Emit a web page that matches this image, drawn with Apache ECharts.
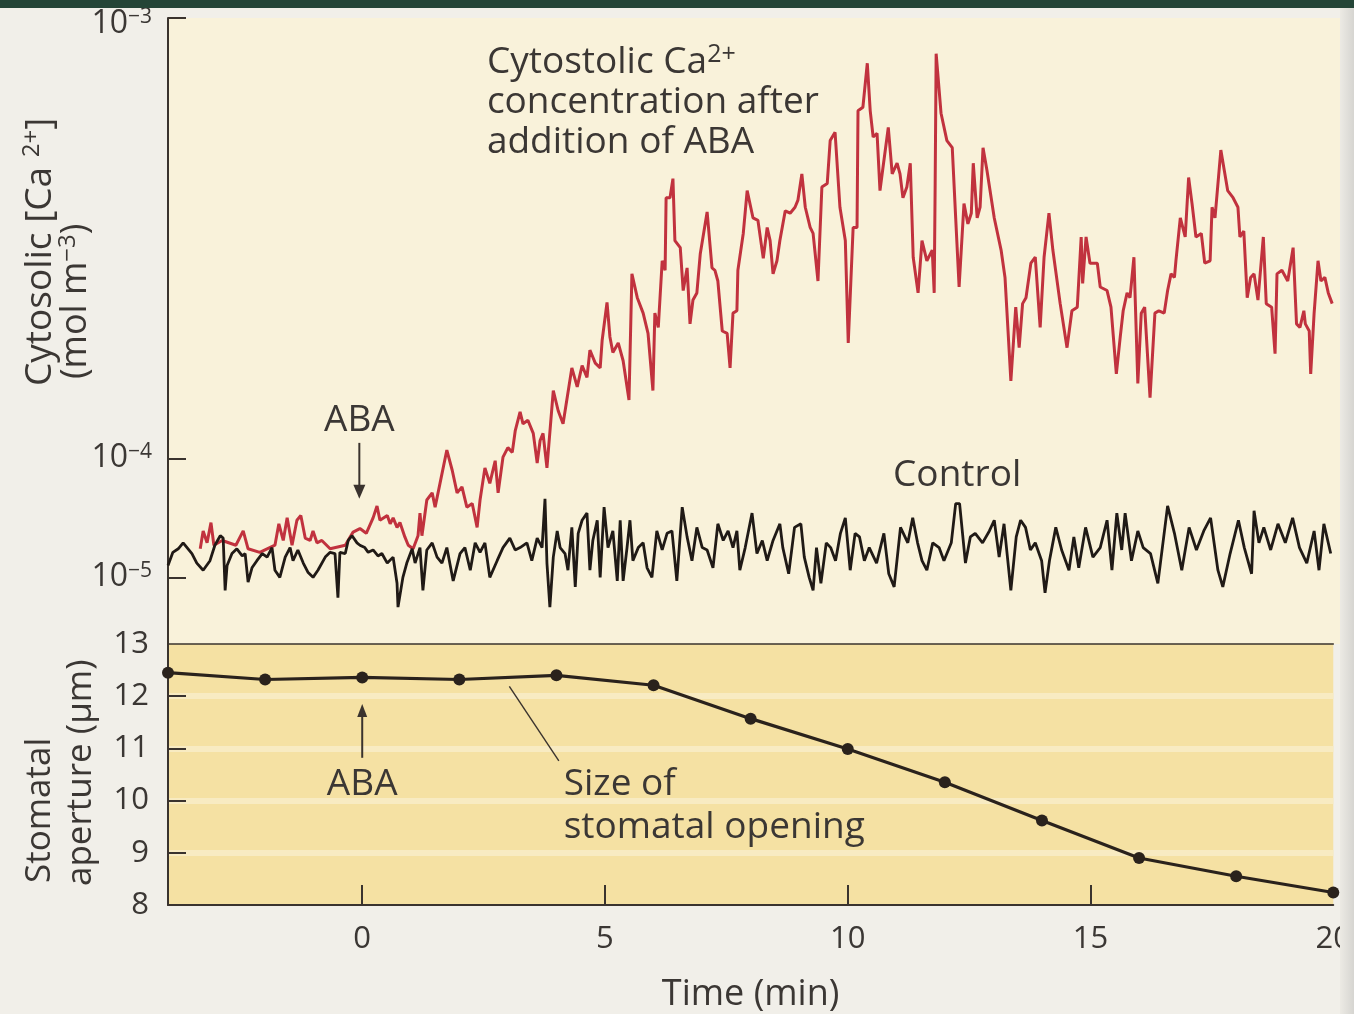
<!DOCTYPE html>
<html><head><meta charset="utf-8">
<script src="https://cdn.jsdelivr.net/npm/echarts@6/dist/echarts.min.js"></script>
<style>html,body{margin:0;padding:0;background:#f1efe9;}#c{width:1354px;height:1014px;}</style>
</head><body><div id="c"></div>
<script>
// ---- data ----
// time in minutes; Ca level on the figure's (non-uniform) printed scale: 0 = 10^-5, 100 = 10^-4, 470 = 10^-3
const timeTicks = [0, 5, 10, 15, 20];
const caTickLevels = [0, 100, 470];
const caTickExponents = ['\u22125', '\u22124', '\u22123'];
const apertureTicks = [8, 9, 10, 11, 12, 13];
const apertureTime = [-4, -2, 0, 2, 4, 6, 8, 10, 12, 14, 16, 18, 20];
const apertureValue = [12.45, 12.32, 12.36, 12.32, 12.40, 12.21, 11.57, 10.99, 10.35, 9.62, 8.90, 8.55, 8.24];

const abaTrace = [[-3.34,24],[-3.28,39],[-3.20,29],[-3.12,46],[-3.06,27],[-2.89,31],[-2.61,27],[-2.46,39],[-2.36,24],[-2.12,21],
[-1.81,27],[-1.73,45],[-1.64,31],[-1.56,50],[-1.46,27],[-1.36,48],[-1.28,52],[-1.19,33],[-1.09,31],[-1.03,39],
[-0.95,29],[-0.85,31],[-0.68,24],[-0.37,27],[-0.21,38],[-0.07,41],[0.06,37],[0.20,50],[0.28,60],[0.34,48],
[0.49,52],[0.55,45],[0.61,50],[0.69,42],[0.75,46],[0.85,34],[0.92,27],[1.02,24],[1.12,35],[1.16,54],
[1.20,35],[1.30,65],[1.41,71],[1.47,59],[1.57,79],[1.71,107],[1.82,90],[1.92,71],[2.02,76],[2.12,59],
[2.23,62],[2.33,42],[2.39,65],[2.49,92],[2.59,79],[2.70,98],[2.76,71],[2.86,101],[2.96,109],[3.05,105],
[3.11,123],[3.21,139],[3.27,129],[3.37,132],[3.48,121],[3.56,96],[3.62,115],[3.68,121],[3.76,92],[3.89,157],
[3.99,140],[4.09,129],[4.27,176],[4.38,160],[4.48,178],[4.58,168],[4.64,191],[4.75,180],[4.85,176],[4.89,199],
[4.99,231],[5.05,202],[5.11,189],[5.22,197],[5.32,182],[5.44,149],[5.50,255],[5.61,235],[5.73,222],[5.83,205],
[5.93,157],[5.97,222],[6.04,210],[6.12,266],[6.18,258],[6.20,319],[6.28,319],[6.34,335],[6.38,283],[6.49,277],
[6.55,241],[6.63,260],[6.69,213],[6.75,233],[6.83,239],[6.90,272],[7.04,307],[7.14,260],[7.20,258],[7.26,249],
[7.35,207],[7.45,205],[7.51,176],[7.57,222],[7.65,224],[7.67,258],[7.78,289],[7.86,325],[7.98,302],[8.08,300],
[8.19,268],[8.27,294],[8.33,283],[8.39,255],[8.47,266],[8.53,283],[8.64,308],[8.74,306],[8.84,311],[8.90,317],
[8.98,339],[9.05,311],[9.15,294],[9.21,289],[9.31,249],[9.39,328],[9.50,331],[9.56,367],[9.66,374],[9.76,311],
[9.87,283],[9.93,197],[10.03,294],[10.11,294],[10.13,392],[10.23,395],[10.32,432],[10.38,392],[10.44,370],[10.52,373],
[10.58,325],[10.64,344],[10.75,378],[10.83,339],[10.93,348],[10.99,339],[11.05,319],[11.13,328],[11.20,348],[11.26,269],
[11.36,239],[11.44,283],[11.54,266],[11.65,275],[11.69,239],[11.71,331],[11.73,440],[11.83,390],[11.95,367],[12.06,361],
[12.13,302],[12.20,244],[12.30,314],[12.38,297],[12.45,306],[12.49,348],[12.57,302],[12.63,311],[12.69,361],[12.77,342],
[12.92,302],[13.06,275],[13.14,252],[13.26,165],[13.36,227],[13.43,193],[13.50,230],[13.57,235],[13.67,264],[13.76,269],
[13.86,210],[13.94,269],[14.04,306],[14.12,275],[14.27,230],[14.41,193],[14.51,224],[14.62,227],[14.70,286],[14.73,247],
[14.80,286],[14.88,264],[15.03,264],[15.09,244],[15.23,241],[15.31,227],[15.42,171],[15.50,202],[15.56,224],[15.64,239],
[15.70,235],[15.78,269],[15.86,163],[15.93,222],[16.00,227],[16.11,151],[16.21,222],[16.29,224],[16.40,222],[16.47,241],
[16.54,255],[16.61,252],[16.64,266],[16.73,302],[16.83,286],[16.90,336],[16.97,314],[17.05,286],[17.16,289],[17.23,264],
[17.34,266],[17.38,311],[17.44,302],[17.56,359],[17.63,342],[17.70,325],[17.81,319],[17.91,311],[17.95,286],[18.03,291],
[18.10,235],[18.17,252],[18.24,255],[18.32,233],[18.43,286],[18.49,230],[18.60,227],[18.67,188],[18.71,255],[18.81,258],
[18.93,249],[19.04,277],[19.11,213],[19.18,210],[19.26,224],[19.29,213],[19.37,207],[19.40,171],[19.47,222],[19.55,266],
[19.61,249],[19.69,252],[19.76,239],[19.84,230]];

const controlTrace = [[-4.00,10],[-3.90,21],[-3.79,24],[-3.69,29],[-3.61,25],[-3.51,20],[-3.41,12],[-3.28,6],[-3.14,14],[-3.04,27],
[-2.93,35],[-2.87,33],[-2.83,-11],[-2.79,10],[-2.69,20],[-2.59,24],[-2.48,18],[-2.42,20],[-2.36,-4],[-2.28,8],
[-2.18,14],[-2.07,20],[-1.97,17],[-1.87,25],[-1.81,6],[-1.71,0],[-1.60,17],[-1.50,25],[-1.44,14],[-1.34,23],
[-1.23,12],[-1.13,4],[-1.03,0],[-0.93,6],[-0.78,17],[-0.68,21],[-0.58,20],[-0.52,-17],[-0.48,21],[-0.37,20],
[-0.31,31],[-0.23,35],[-0.13,29],[-0.07,27],[0.03,25],[0.10,21],[0.20,23],[0.30,18],[0.38,20],[0.49,12],
[0.61,17],[0.69,-5],[0.71,-25],[0.81,0],[0.89,12],[1.00,24],[1.06,12],[1.16,25],[1.22,-11],[1.30,23],
[1.41,29],[1.51,17],[1.61,12],[1.71,25],[1.84,-3],[1.98,20],[2.08,25],[2.19,6],[2.29,29],[2.39,21],
[2.49,29],[2.59,0],[2.74,14],[2.86,25],[3.00,33],[3.11,23],[3.21,25],[3.35,29],[3.45,14],[3.56,33],
[3.66,25],[3.72,66],[3.76,12],[3.82,-25],[3.89,17],[3.97,39],[4.03,25],[4.13,20],[4.19,6],[4.27,42],
[4.34,-8],[4.40,37],[4.48,48],[4.58,54],[4.64,6],[4.70,31],[4.79,48],[4.85,0],[4.93,59],[5.01,25],
[5.11,39],[5.20,-3],[5.26,48],[5.32,-3],[5.40,25],[5.46,48],[5.52,14],[5.63,25],[5.73,29],[5.81,8],
[5.91,0],[6.01,39],[6.12,23],[6.22,37],[6.32,39],[6.42,-3],[6.53,59],[6.63,34],[6.73,14],[6.83,42],
[6.94,25],[7.04,23],[7.16,8],[7.26,45],[7.37,31],[7.47,39],[7.57,25],[7.65,39],[7.71,6],[7.82,25],
[7.96,54],[8.06,20],[8.17,31],[8.27,14],[8.39,31],[8.53,45],[8.59,25],[8.71,3],[8.83,42],[8.96,45],
[9.03,17],[9.13,0],[9.21,-11],[9.28,25],[9.37,-5],[9.48,29],[9.57,25],[9.67,14],[9.77,37],[9.87,50],
[9.97,6],[10.07,37],[10.16,34],[10.26,14],[10.36,25],[10.51,12],[10.66,37],[10.76,3],[10.87,-8],[11.00,42],
[11.15,29],[11.25,50],[11.35,29],[11.44,14],[11.54,6],[11.66,29],[11.79,25],[11.89,14],[12.04,29],[12.13,62],
[12.21,62],[12.33,12],[12.43,34],[12.53,37],[12.68,29],[12.82,39],[12.92,48],[13.02,17],[13.12,45],[13.26,-11],
[13.37,34],[13.46,48],[13.56,42],[13.66,23],[13.76,29],[13.89,14],[13.96,-13],[14.05,14],[14.18,42],[14.30,23],
[14.45,6],[14.55,34],[14.65,8],[14.79,42],[14.94,17],[15.09,25],[15.23,48],[15.33,6],[15.43,54],[15.53,23],
[15.60,54],[15.73,14],[15.86,39],[15.97,25],[16.12,20],[16.27,-5],[16.47,60],[16.61,37],[16.76,6],[16.91,42],
[17.06,23],[17.21,39],[17.35,50],[17.50,6],[17.60,-8],[17.75,20],[17.92,48],[18.04,25],[18.19,3],[18.24,56],
[18.34,29],[18.44,42],[18.58,23],[18.73,45],[18.88,29],[19.03,50],[19.17,25],[19.32,12],[19.47,39],[19.57,6],
[19.67,45],[19.81,20]];

// ---- chart ----
const FONT = '"Open Sans","Noto Sans",sans-serif';
const AX = '#3a332e';
const TXT = '#3b3734';
const chart = echarts.init(document.getElementById('c'), null, {renderer: 'canvas'});

const option = {
  backgroundColor: '#f1efe9',
  animation: false,
  grid: [
    {left: 168, top: 18, width: 1172, height: 626, show: true, backgroundColor: '#f9f2da', borderWidth: 0},
    {left: 168, top: 644, width: 1172, height: 266, show: true, backgroundColor: '#f5e1a3', borderWidth: 0}
  ],
  xAxis: [
    {gridIndex: 0, type: 'value', min: -4, max: 20, show: false},
    {gridIndex: 1, type: 'value', min: -4, max: 20, position: 'bottom',
      axisLine: {show: true, onZero: false, lineStyle: {color: AX, width: 2}},
      axisTick: {show: true, inside: true, length: 20, customValues: [0, 5, 10, 15], lineStyle: {color: AX, width: 2}},
      axisLabel: {customValues: timeTicks, margin: 19, fontSize: 31, color: TXT, fontFamily: FONT},
      splitLine: {show: false},
      name: 'Time (min)', nameLocation: 'middle', nameGap: 72,
      nameTextStyle: {fontSize: 36, color: TXT, fontFamily: FONT}},
    {gridIndex: 1, type: 'value', min: -4, max: 20, position: 'top',
      axisLine: {show: true, onZero: false, lineStyle: {color: AX, width: 1.6}},
      axisTick: {show: false}, axisLabel: {show: false}, splitLine: {show: false}}
  ],
  yAxis: [
    {gridIndex: 0, type: 'value', min: -56, max: 470,
      axisLine: {show: true, onZero: false, lineStyle: {color: AX, width: 2}},
      axisTick: {show: true, inside: true, length: 18, customValues: caTickLevels, lineStyle: {color: AX, width: 2}},
      axisLabel: {customValues: caTickLevels, margin: 16,
        formatter: function (v) {
          const i = caTickLevels.indexOf(v);
          const s = '{b|10}{s|' + caTickExponents[i] + '}';
          return v === caTickLevels[caTickLevels.length - 1] ? '{p| }\n' + s : s;
        },
        rich: {
          b: {fontSize: 32, color: TXT, fontFamily: FONT, lineHeight: 34},
          s: {fontSize: 21, color: TXT, fontFamily: FONT, lineHeight: 34, verticalAlign: 'top'},
          p: {fontSize: 2, lineHeight: 12}
        }},
      splitLine: {show: false}},
    {gridIndex: 1, type: 'value', min: 8, max: 13, interval: 1,
      axisLine: {show: true, onZero: false, lineStyle: {color: AX, width: 2}},
      axisTick: {show: true, inside: true, length: 18, customValues: [9, 10, 11, 12], lineStyle: {color: AX, width: 2}},
      axisLabel: {customValues: apertureTicks, margin: 19, fontSize: 31, color: TXT, fontFamily: FONT},
      splitLine: {show: true, lineStyle: {color: '#f8ebc2', width: 6}}}
  ],
  series: [
    {name: 'ABA', type: 'line', xAxisIndex: 0, yAxisIndex: 0, data: abaTrace, symbol: 'none',
      lineStyle: {color: '#c1323e', width: 3}, z: 2},
    {name: 'Control', type: 'line', xAxisIndex: 0, yAxisIndex: 0, data: controlTrace, symbol: 'none',
      lineStyle: {color: '#201a16', width: 2.8}, z: 3},
    {name: 'Aperture', type: 'line', xAxisIndex: 1, yAxisIndex: 1,
      data: apertureTime.map(function (t, i) { return [t, apertureValue[i]]; }),
      symbol: 'circle', symbolSize: 12, clip: false,
      itemStyle: {color: '#2a221c'}, lineStyle: {color: '#2a221c', width: 3.2}, z: 4}
  ]
};
chart.setOption(option);

function P0(t, v) { return chart.convertToPixel({gridIndex: 0}, [t, v]); }
function P1(t, v) { return chart.convertToPixel({gridIndex: 1}, [t, v]); }
const txt = {fontFamily: FONT, fill: TXT};

const topLbl = P0(2.53, 433);
const abaTop = P0(0, 134), abaTopA = P0(0, 113), abaTopB = P0(0, 66);
const ctl = P0(12.16, 86);
const abaBot = P1(0, 10.39), abaBotA = P1(0, 10.82), abaBotB = P1(0, 11.85);
const sizeLbl = P1(4.15, 10.39);
const leadA = P1(3.03, 12.19), leadB = P1(4.05, 10.76);
const ANN = 37;

chart.setOption({graphic: [
  {type: 'rect', shape: {x: 0, y: 0, width: 1354, height: 8}, style: {fill: '#244537'}, z: 100},
  {type: 'rect', shape: {x: 1340, y: 8, width: 14, height: 1006},
    style: {fill: new echarts.graphic.LinearGradient(0, 0, 1, 0, [{offset: 0, color: '#eceae4'}, {offset: 1, color: '#d6d5d1'}])}, z: 100},
  {type: 'text', x: topLbl[0], y: topLbl[1] - 20, style: {
    text: '{t|Cytostolic Ca}{s|2+}\n{t|concentration after}\n{t|addition of ABA}',
    textVerticalAlign: 'top', textAlign: 'left',
    rich: {t: {fontSize: ANN, lineHeight: 40, fontFamily: FONT, fill: TXT}, s: {fontSize: 25, lineHeight: 40, verticalAlign: 'top', fontFamily: FONT, fill: TXT}}}},
  {type: 'text', x: abaTop[0] - 4, y: abaTop[1] + 3, style: Object.assign({text: 'ABA', fontSize: ANN, textAlign: 'center', textVerticalAlign: 'middle'}, txt)},
  {type: 'line', shape: {x1: abaTopA[0] - 4, y1: abaTopA[1], x2: abaTopB[0] - 4, y2: abaTopB[1] - 10}, style: {stroke: AX, lineWidth: 2}},
  {type: 'polygon', shape: {points: [[abaTopB[0] - 10, abaTopB[1] - 14], [abaTopB[0] + 2, abaTopB[1] - 14], [abaTopB[0] - 4, abaTopB[1]]]}, style: {fill: AX}},
  {type: 'text', x: ctl[0], y: ctl[1], style: Object.assign({text: 'Control', fontSize: ANN, textAlign: 'center', textVerticalAlign: 'middle'}, txt)},
  {type: 'text', x: abaBot[0], y: abaBot[1] + 4, style: Object.assign({text: 'ABA', fontSize: ANN, textAlign: 'center', textVerticalAlign: 'middle'}, txt)},
  {type: 'line', shape: {x1: abaBotA[0], y1: abaBotA[1], x2: abaBotB[0], y2: abaBotB[1] + 8}, style: {stroke: AX, lineWidth: 2}},
  {type: 'polygon', shape: {points: [[abaBotB[0] - 5, abaBotB[1] + 13], [abaBotB[0] + 5, abaBotB[1] + 13], [abaBotB[0], abaBotB[1]]]}, style: {fill: AX}},
  {type: 'text', x: sizeLbl[0], y: sizeLbl[1] - 17, style: Object.assign({text: 'Size of\nstomatal opening', fontSize: ANN, lineHeight: 43, textAlign: 'left', textVerticalAlign: 'top'}, txt)},
  {type: 'line', shape: {x1: leadA[0], y1: leadA[1], x2: leadB[0], y2: leadB[1]}, style: {stroke: AX, lineWidth: 1.4}},
  {type: 'text', x: 40, y: 386, rotation: Math.PI / 2, style: {
    text: '{t|Cytosolic [Ca }{s|2+}{t|]}', textAlign: 'left', textVerticalAlign: 'middle',
    rich: {t: {fontSize: 37, lineHeight: 40, fontFamily: FONT, fill: TXT}, s: {fontSize: 24, lineHeight: 40, verticalAlign: 'top', fontFamily: FONT, fill: TXT}}}},
  {type: 'text', x: 76, y: 379, rotation: Math.PI / 2, style: {
    text: '{t|(mol m}{s|\u22123}{t|)}', textAlign: 'left', textVerticalAlign: 'middle',
    rich: {t: {fontSize: 36, lineHeight: 40, fontFamily: FONT, fill: TXT}, s: {fontSize: 24, lineHeight: 40, verticalAlign: 'top', fontFamily: FONT, fill: TXT}}}},
  {type: 'text', x: 40, y: 883, rotation: Math.PI / 2, style: Object.assign({text: 'Stomatal', fontSize: 35, textAlign: 'left', textVerticalAlign: 'middle'}, txt)},
  {type: 'text', x: 81, y: 886, rotation: Math.PI / 2, style: Object.assign({text: 'aperture (\u00b5m)', fontSize: 35, textAlign: 'left', textVerticalAlign: 'middle'}, txt)}
]});
</script></body></html>
